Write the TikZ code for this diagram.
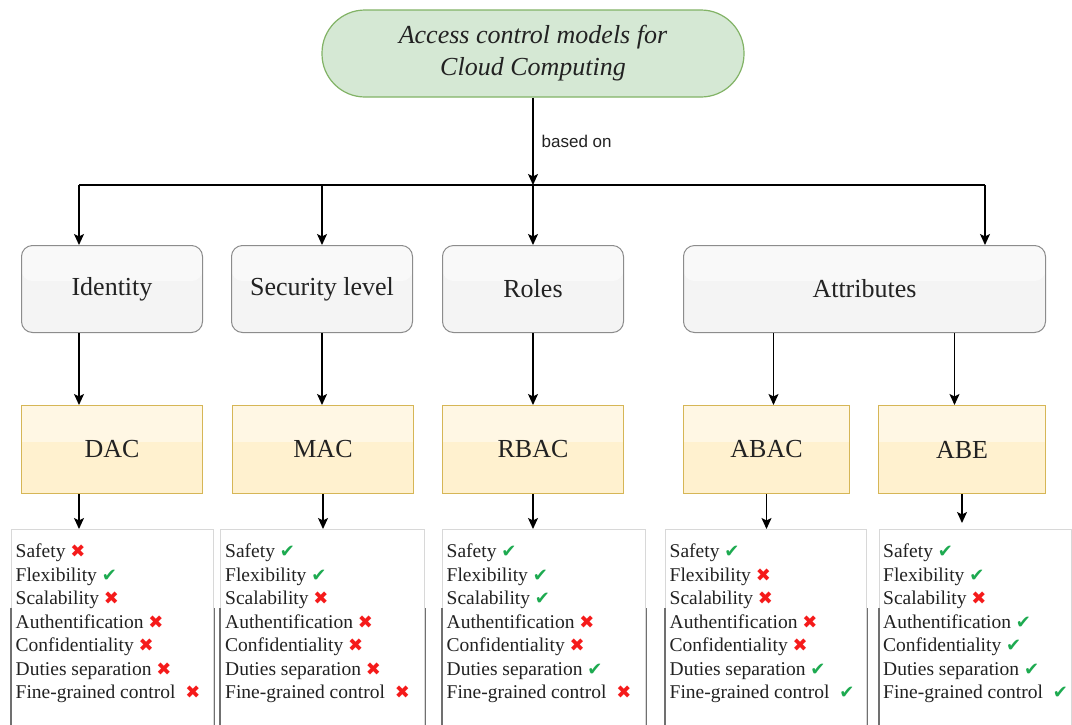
\documentclass[tikz,border=0pt]{standalone}
\usepackage{fontspec}
\setmainfont{Liberation Serif}
\setsansfont{Liberation Sans}
\newfontfamily\symfont{DejaVu Sans}
\usetikzlibrary{arrows.meta,calc}

\definecolor{titlefill}{HTML}{D5E8D4}
\definecolor{titledraw}{HTML}{82B366}
\definecolor{catfill}{HTML}{F4F4F4}
\definecolor{catdraw}{HTML}{8C8C8C}
\definecolor{modelfill}{HTML}{FFF1CF}
\definecolor{modeldraw}{HTML}{D6B656}
\definecolor{listlight}{HTML}{D8D8D8}
\definecolor{listdark}{HTML}{707070}
\definecolor{okgreen}{HTML}{1DAA50}
\definecolor{nored}{HTML}{F51A1A}
\definecolor{inktext}{HTML}{222222}

% property marks
\newcommand\pyes{{\symfont\fontsize{18}{18}\selectfont\color{okgreen}\char"2714}}
\newcommand\pno{{\symfont\fontsize{18}{18}\selectfont\color{nored}\char"2716}}
\newcommand\fgap{\hspace{10pt}}

\begin{document}
\begin{tikzpicture}[x=1pt,y=-1pt,
  wire/.style={draw=black,line width=1.4pt},
  arr/.style={wire,-{Stealth[length=11pt,width=10pt,inset=2.5pt]}},
  glass/.style={path picture={\fill[white,opacity=#1]
      (path picture bounding box.north west) rectangle
      ([yshift=8pt]path picture bounding box.east);}},
  titlebox/.style={rounded corners=43pt,fill=titlefill,draw=titledraw,line width=1.2pt,
    minimum width=422pt,minimum height=87pt,inner sep=0,align=center,
    text=inktext,font=\fontsize{26}{32}\selectfont\itshape},
  catbox/.style={anchor=north west,rounded corners=11pt,fill=catfill,glass=0.5,
    draw=catdraw,line width=1pt,minimum height=87pt,inner sep=0,
    text=inktext,font=\fontsize{26}{30}\selectfont},
  modelbox/.style={anchor=north west,fill=modelfill,glass=0.45,draw=modeldraw,
    line width=1pt,minimum height=88pt,inner sep=0,
    text=inktext,font=\fontsize{26}{30}\selectfont},
  propbox/.style={anchor=north west,fill=white,draw=listlight,line width=1.4pt,
    minimum height=211pt,inner sep=0},
  propside/.style={draw=listdark,line width=1.4pt},
  proptext/.style={anchor=north west,inner sep=0,align=left,text=inktext,
    font=\fontsize{19.5}{23.43}\selectfont},
  edgelabel/.style={right,inner sep=0,xshift=8pt,text=inktext,
    font=\sffamily\fontsize{17}{17}\selectfont}
]
\clip (0,0) rectangle (1072,724);
\fill[white] (0,0) rectangle (1072,724);

% root
\node[titlebox] (top) at (533,53.5) {Access control models for\\Cloud Computing};

% what the models are based on
\node[catbox,minimum width=181pt] (identity) at (21,245)  {Identity};
\node[catbox,minimum width=181pt] (seclevel) at (231,245) {Security level};
\node[catbox,minimum width=181pt] (roles)    at (442,245) {Roles};
\node[catbox,minimum width=362pt] (attrs)    at (683,245) {Attributes};

% models
\node[modelbox,minimum width=181pt] (dac)  at (21,405)  {DAC};
\node[modelbox,minimum width=181pt] (mac)  at (232,405) {MAC};
\node[modelbox,minimum width=181pt] (rbac) at (442,405) {RBAC};
\node[modelbox,minimum width=166pt] (abac) at (683,405) {ABAC};
\node[modelbox,minimum width=167pt] (abe)  at (878,405) {ABE};

% property lists
\node[propbox,minimum width=202pt] (ldac)  at (11,529)  {};
\node[propbox,minimum width=204pt] (lmac)  at (220,529) {};
\node[propbox,minimum width=203pt] (lrbac) at (442,529) {};
\node[propbox,minimum width=201pt] (labac) at (665,529) {};
\node[propbox,minimum width=192pt] (labe)  at (879,529) {};
\foreach \b in {ldac,lmac,lrbac,labac,labe}{
  \draw[propside] ([yshift=-79pt]\b.north west) -- (\b.south west);
  \draw[propside] ([yshift=-79pt]\b.north east) -- (\b.south east);
}

\node[proptext] (tdac) at ([xshift=4.5pt,yshift=-12.7pt]ldac.north west)
  {\rule{0pt}{16pt}Safety \pno\\Flexibility \pyes\\Scalability \pno\\Authentification \pno\\
   Confidentiality \pno\\Duties separation \pno\\Fine-grained control\fgap\pno};
\node[proptext] (tmac) at ([xshift=5pt,yshift=-12.7pt]lmac.north west)
  {\rule{0pt}{16pt}Safety \pyes\\Flexibility \pyes\\Scalability \pno\\Authentification \pno\\
   Confidentiality \pno\\Duties separation \pno\\Fine-grained control\fgap\pno};
\node[proptext] (trbac) at ([xshift=4.5pt,yshift=-12.7pt]lrbac.north west)
  {\rule{0pt}{16pt}Safety \pyes\\Flexibility \pyes\\Scalability \pyes\\Authentification \pno\\
   Confidentiality \pno\\Duties separation \pyes\\Fine-grained control\fgap\pno};
\node[proptext] (tabac) at ([xshift=4.5pt,yshift=-12.7pt]labac.north west)
  {\rule{0pt}{16pt}Safety \pyes\\Flexibility \pno\\Scalability \pno\\Authentification \pno\\
   Confidentiality \pno\\Duties separation \pyes\\Fine-grained control\fgap\pyes};
\node[proptext] (tabe) at ([xshift=4pt,yshift=-12.7pt]labe.north west)
  {\rule{0pt}{16pt}Safety \pyes\\Flexibility \pyes\\Scalability \pno\\Authentification \pyes\\
   Confidentiality \pyes\\Duties separation \pyes\\Fine-grained control\fgap\pyes};

% branching bus
\coordinate (j)  at (533,185);
\coordinate (hl) at (79,185);
\coordinate (hr) at (985,185);
\draw[wire] (hl) -- (hr);
\draw[arr] (top.south) -- node[edgelabel] {based on} (j);
\draw[arr] (hl) -- (hl |- identity.north);
\draw[arr] (seclevel.north |- j) -- (seclevel.north);
\draw[arr] (j) -- (j |- roles.north);
\draw[arr] (hr) -- (hr |- attrs.north);

% categories to models
\draw[arr] (identity.south -| hl) -- (dac.north -| hl);
\draw[arr] (seclevel.south) -- (seclevel.south |- mac.north);
\draw[arr] (roles.south) -- (roles.south |- rbac.north);
\coordinate (abacin) at ([xshift=7pt]abac.north);
\coordinate (abein)  at ([xshift=-7.5pt]abe.north);
\draw[arr] (abacin |- attrs.south) -- (abacin);
\draw[arr] (abein |- attrs.south) -- (abein);

% models to property lists
\draw[arr] (dac.south -| hl) -- (ldac.north -| hl);
\draw[arr] (mac.south) -- (mac.south |- lmac.north);
\draw[arr] (rbac.south) -- (rbac.south |- lrbac.north);
\draw[arr] (abac.south) -- (abac.south |- labac.north);
\draw[arr,shorten >=6pt] (abe.south) -- (abe.south |- labe.north);
\end{tikzpicture}
\end{document}
